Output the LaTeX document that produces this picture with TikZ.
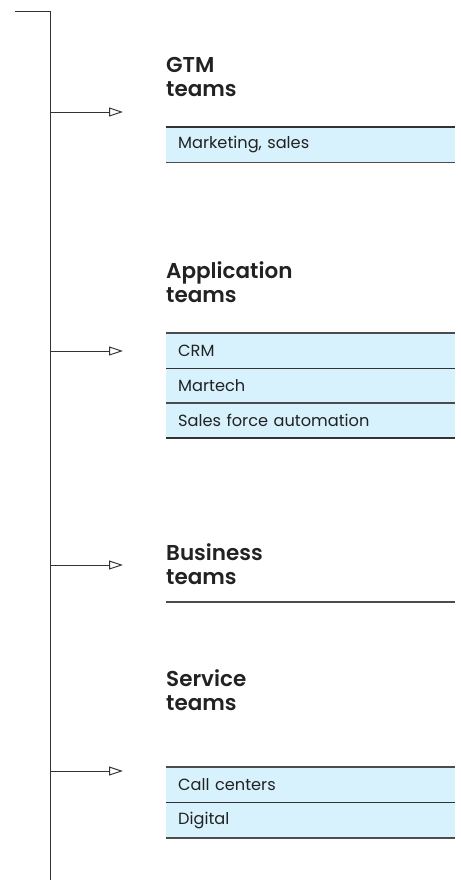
\documentclass[tikz,border=0pt]{standalone}
\usepackage{fontspec}
\setmainfont{Poppins}
\newfontfamily\semib{Poppins SemiBold}
\usetikzlibrary{arrows.meta}
\definecolor{rowfill}{HTML}{D7F2FD}
\definecolor{ink}{HTML}{222222}
\definecolor{linec}{HTML}{333333}
\tikzset{
  spine/.style={draw=linec, line width=1bp},
  feed/.style={draw=linec, line width=0.9bp, -{Triangle[open, length=14bp, width=9bp, line width=1bp]}},
  title/.style={anchor=north west, inner sep=0pt, align=left, font=\fontsize{21.5bp}{24bp}\selectfont\semib, text=ink},
  rowbox/.style={anchor=north west, fill=rowfill, minimum width=289bp, minimum height=35bp, inner xsep=12bp, inner ysep=0pt, text width=265bp, align=left, font=\fontsize{16.2bp}{18bp}\selectfont, text=ink},
  sep/.style={draw=linec, line width=1.2bp},
  sepb/.style={draw=gray!60!black, line width=1.6bp}
}
\begin{document}
\begin{tikzpicture}[x=1bp,y=-1bp]
\useasboundingbox (0,0) rectangle (461,882);
% spine
\coordinate (s0) at (15,11);
\coordinate (s1) at (50,11);
\coordinate (s2) at (50,880);
\draw[spine] (s0) -- (s1) -- (s2);
% branch points
\coordinate (b1) at (50,112);
\coordinate (e1) at (123,112);
\coordinate (b2) at (50,351);
\coordinate (e2) at (123,351);
\coordinate (b3) at (50,565);
\coordinate (e3) at (123,565);
\coordinate (b4) at (50,771);
\coordinate (e4) at (123,771);
\draw[feed] (b1) -- (e1);
\draw[feed] (b2) -- (e2);
\draw[feed] (b3) -- (e3);
\draw[feed] (b4) -- (e4);
% titles
\node[title] (t1) at (166,57) {GTM\\teams};
\node[title] (t2) at (166,261) {Application\\teams};
\node[title] (t3) at (166,543) {Business\\teams};
\node[title] (t4) at (166,669) {Service\\teams};
% rows
\node[rowbox] (r1) at (166,127) {Marketing, sales};
\node[rowbox] (r2) at (166,333) {CRM};
\node[rowbox] (r3) at (166,367.5) {Martech};
\node[rowbox] (r4) at (166,402.5) {Sales force automation};
\node[rowbox] (r5) at (166,767) {Call centers};
\node[rowbox] (r6) at (166,802.5) {Digital};
\coordinate (l3a) at (166,602);
\coordinate (l3b) at (455,602);
% separators
\draw[sep] (r1.north west) -- (r1.north east);
\draw[sepb] (r1.south west) -- (r1.south east);
\draw[sepb] (r2.north west) -- (r2.north east);
\draw[sep] (r2.south west) -- (r2.south east);
\draw[sepb] (r3.south west) -- (r3.south east);
\draw[sep] (r4.south west) -- (r4.south east);
\draw[sepb] (l3a) -- (l3b);
\draw[sepb] (r5.north west) -- (r5.north east);
\draw[sep] (r5.south west) -- (r5.south east);
\draw[sepb] (r6.south west) -- (r6.south east);
\end{tikzpicture}
\end{document}
